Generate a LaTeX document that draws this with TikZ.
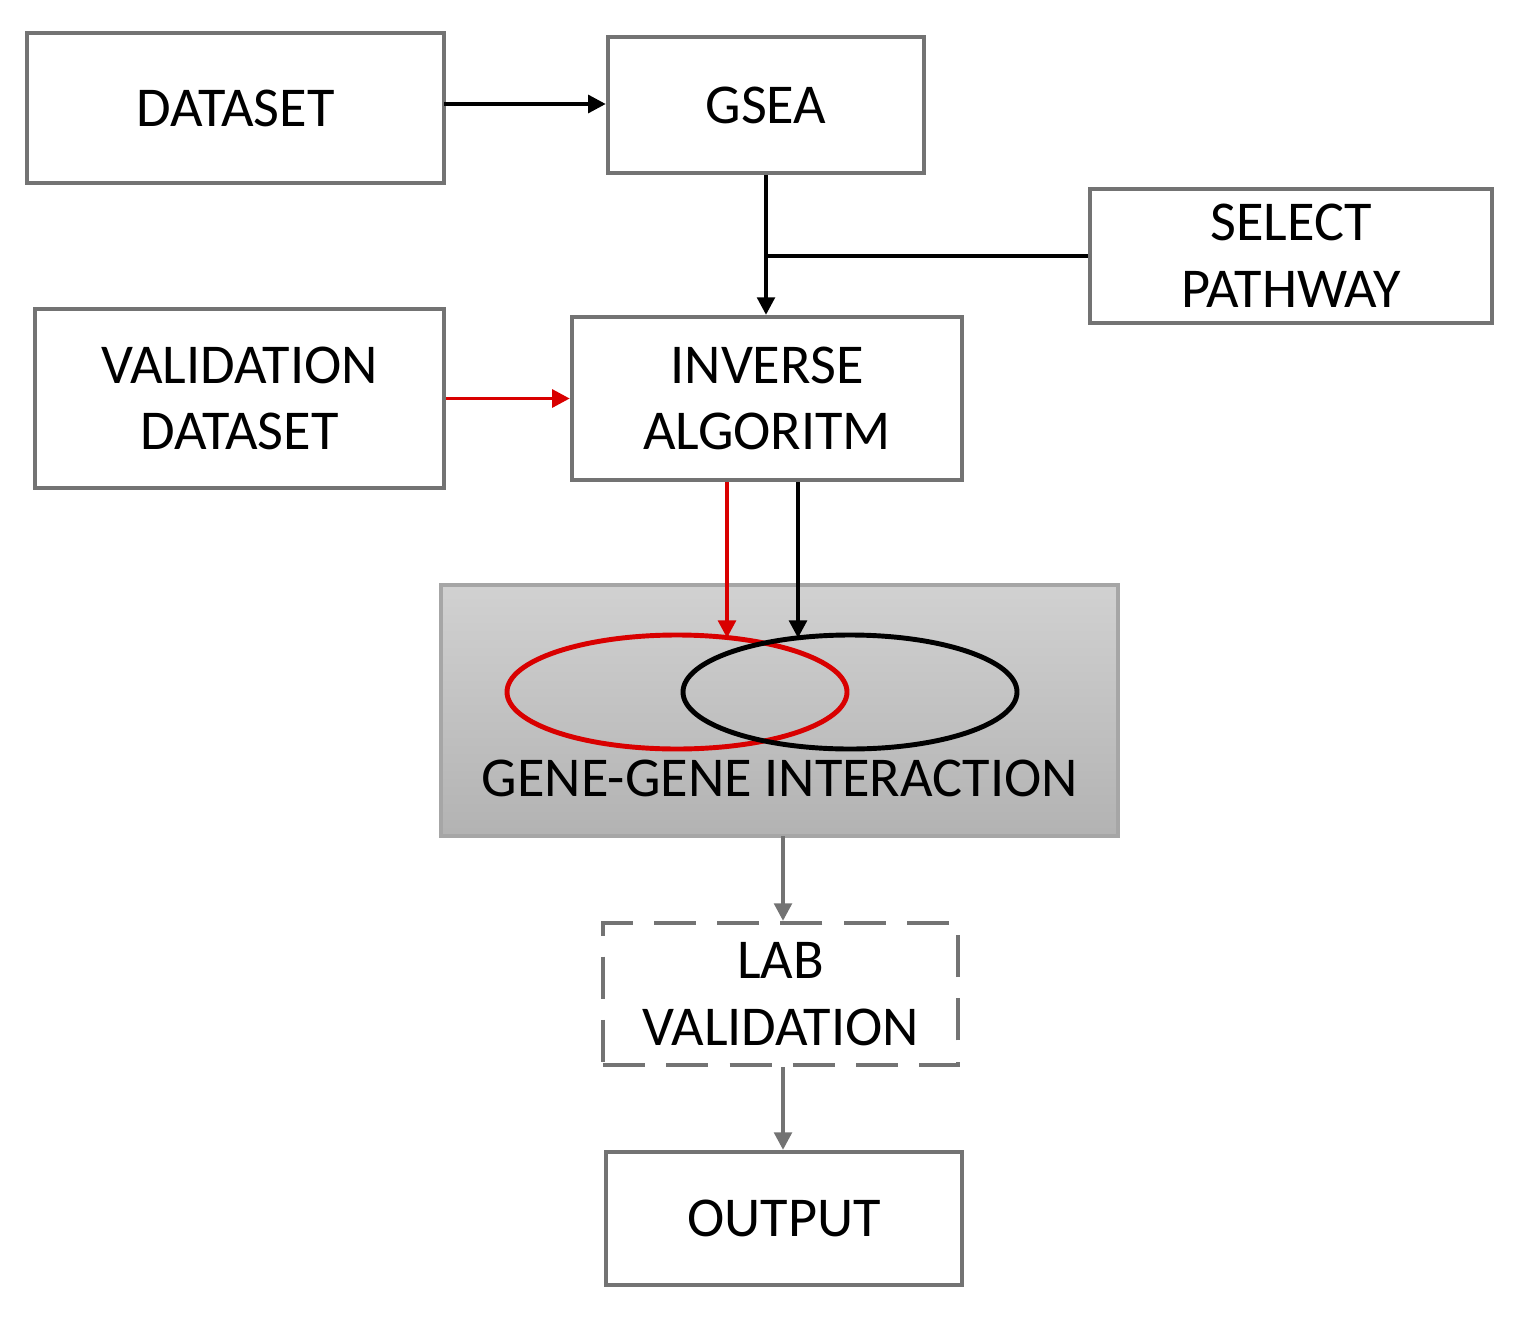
\documentclass[tikz,border=0pt]{standalone}
\usepackage{fontspec}
\setmainfont{Carlito}
\usetikzlibrary{arrows.meta}
\begin{document}
\begin{tikzpicture}[x=0.01cm,y=-0.01cm,
 box/.style={draw=black!55,line width=1.2pt,fill=white,inner sep=0pt,align=center,font=\fontsize{16}{19}\selectfont},
 arr/.style={line width=1.1pt,-{Triangle[length=5pt,width=5pt]}}]
\useasboundingbox (0,0) rectangle (1524,1324);
\node[box,minimum width=4.17cm,minimum height=1.5cm] (ds) at (235.5,108) {DATASET};
\node[box,minimum width=3.16cm,minimum height=1.36cm] (gsea) at (766,105) {GSEA};
\node[box,minimum width=4.02cm,minimum height=1.34cm] (sp) at (1291,256) {SELECT\\PATHWAY};
\node[box,minimum width=4.09cm,minimum height=1.79cm] (vd) at (239.5,398.5) {VALIDATION\\DATASET};
\node[box,minimum width=3.90cm,minimum height=1.63cm] (ia) at (767,398.5) {INVERSE\\ALGORITM};
\shade[top color=black!18,bottom color=black!30,draw=black!35,line width=1.2pt] (441,585) rectangle (1118,836);
\draw[red!85!black,line width=1.4pt] (677,692) ellipse [x radius=170,y radius=57];
\draw[black,line width=1.4pt] (850,692) ellipse [x radius=167,y radius=57];
\coordinate (rt) at (727,638);
\coordinate (bt) at (798,638);
\node[font=\fontsize{16}{19}\selectfont] (ggt) at (780,778) {GENE-GENE INTERACTION};
\coordinate (ggb) at (783,836);
\coordinate (dsr) at (444,104);
\node[box,dashed,dash pattern=on 12pt off 6pt,minimum width=3.55cm,minimum height=1.42cm] (lab) at (780.5,994) {LAB\\VALIDATION};
\node[box,minimum width=3.56cm,minimum height=1.33cm] (out) at (784,1218.5) {OUTPUT};
\draw[arr] (dsr) -- (gsea.west |- dsr);
\draw[arr] (gsea.south) -- (ia.north -| gsea.south);
\draw[line width=1.1pt] (sp.west) -- (gsea.south |- sp.west);
\draw[arr,red!85!black] (vd.east) -- (ia.west);
\draw[arr,red!85!black] (ia.south -| rt) -- (rt);
\draw[arr] (ia.south -| bt) -- (bt);
\draw[arr,black!55] (ggb) -- (lab.north -| ggb);
\draw[arr,black!55] (lab.south -| ggb) -- (out.north -| ggb);
\end{tikzpicture}
\end{document}
